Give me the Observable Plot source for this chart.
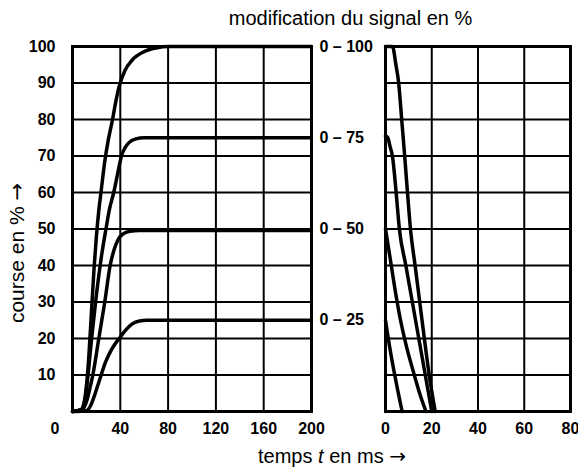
<!DOCTYPE html>
<html><head><meta charset="utf-8">
<script src="https://cdn.jsdelivr.net/npm/d3@7"></script>
<script src="https://cdn.jsdelivr.net/npm/@observablehq/plot@0.6"></script>
<style>
body{margin:0;background:#fff;}
#wrap{position:relative;width:578px;height:470px;}
#wrap svg{position:absolute;left:0;top:0;}
</style></head><body><div id="wrap"></div>
<script>
const FONT = '"Liberation Sans", Arial, Helvetica, sans-serif';

// tick labels and grid
const leftTicks = [40, 80, 120, 160, 200];
const rightTicks = [0, 20, 40, 60, 80];
const yTicks = [10, 20, 30, 40, 50, 60, 70, 80, 90, 100];
const leftGridX = [40, 80, 120, 160];
const rightGridX = [20, 40, 60];
const gridY = [10, 20, 30, 40, 50, 60, 70, 80, 90];
const rangeLabels = ["0 – 100", "0 – 75", "0 – 50", "0 – 25"];
const rangeLevels = [100, 75, 50, 25];

// left panel: rising stroke (t in ms, course in %)
const rise100 = [[0,0],[7,0.5],[10,3],[13,12],[16,28],[18,39],[20,48],[22,55],[24,60.5],[27,68.5],[30,74.5],[33.5,80],[36,84.5],[39,89],[44,93.5],[50,96.3],[60,98.6],[70,99.6],[80,100],[200,100]];
const rise75 = [[0,0],[8,0.5],[11,4],[13,10],[16,20],[20,32],[24,42],[28,50],[31,55.5],[34.5,60],[38,65.5],[41,70],[44,72.3],[47,73.6],[53,74.7],[60,75],[200,75]];
const rise50 = [[0,0],[8,0.5],[12,3],[15,7],[17,10],[22,20],[27,30],[31.5,40],[35,44.5],[38,47],[42,48.6],[48,49.4],[56,49.6],[200,49.6]];
const rise25 = [[0,0],[12,0.3],[15,1.5],[18,4],[21,7],[24,10],[27,13],[30,15.3],[35,18.2],[40,20.4],[45,22.5],[50,24],[56,24.8],[62,25],[200,25]];

// right panel: falling stroke
const fall100 = [[0,100],[3,100],[4.5,95],[5.7,90],[7,80],[8.3,70],[9.5,60],[10.8,50],[12.8,40],[14.8,30],[16.8,20],[18.9,10],[21.5,0]];
const fall75 = [[0,75.5],[1,75],[2,72.5],[3,70],[4.6,60],[6,50],[8.8,40],[11.6,30],[14.4,20],[17.2,10],[20,0]];
const fall50 = [[0,50],[1,46],[2.5,40],[4.5,32],[6.5,25],[9,18],[12,11],[15,4.5],[17.5,0]];
const fall25 = [[0,25],[1.2,20],[7.2,0]];

const lineOpts = {x: d => d[0], y: d => d[1], stroke: "black", strokeWidth: 3.5, curve: "monotone-x", strokeLinejoin: "round", strokeLinecap: "round"};
const baseStyle = {background: "transparent", fontFamily: FONT, fontSize: "16px", fontWeight: "bold", color: "black", overflow: "visible"};

const left = Plot.plot({
  width: 578, height: 470,
  marginLeft: 72, marginRight: 267, marginTop: 46, marginBottom: 59,
  style: baseStyle,
  x: {domain: [0, 200], axis: null},
  y: {domain: [0, 100], axis: null},
  marks: [
    Plot.ruleX(leftGridX, {stroke: "black", strokeWidth: 2}),
    Plot.ruleY(gridY, {stroke: "black", strokeWidth: 2}),
    Plot.frame({stroke: "black", strokeWidth: 3}),
    Plot.line(rise25, lineOpts),
    Plot.line(rise50, lineOpts),
    Plot.line(rise75, lineOpts),
    Plot.line(rise100, lineOpts),
    Plot.axisX({ticks: leftTicks, tickSize: 0, tickPadding: 11, label: null}),
    Plot.axisY({ticks: yTicks, tickSize: 0, tickPadding: 17, label: null}),
    Plot.text(["0"], {frameAnchor: "bottom-left", dx: -22, dy: 17, lineAnchor: "middle", fontSize: 16, fontWeight: "bold"}),
    Plot.text(["course en % →"], {frameAnchor: "left", dx: -55, dy: 24, rotate: -90, lineAnchor: "middle", textAnchor: "middle", fontSize: 21, fontWeight: "normal", letterSpacing: "0.3px"}),
    Plot.text(["temps t en ms →"], {frameAnchor: "bottom-left", dx: 259.5, dy: 45, lineAnchor: "middle", textAnchor: "middle", fontSize: 20, fontWeight: "normal"})
  ]
});

const right = Plot.plot({
  width: 578, height: 470,
  marginLeft: 385, marginRight: 8, marginTop: 46, marginBottom: 59,
  style: baseStyle,
  x: {domain: [0, 80], axis: null},
  y: {domain: [0, 100], axis: null},
  marks: [
    Plot.ruleX(rightGridX, {stroke: "black", strokeWidth: 2}),
    Plot.ruleY(gridY, {stroke: "black", strokeWidth: 2}),
    Plot.frame({stroke: "black", strokeWidth: 3}),
    Plot.line(fall25, lineOpts),
    Plot.line(fall50, lineOpts),
    Plot.line(fall75, lineOpts),
    Plot.line(fall100, lineOpts),
    Plot.axisX({ticks: rightTicks, tickSize: 0, tickPadding: 11, label: null}),
    Plot.text(rangeLabels, {x: 0, y: (d, i) => rangeLevels[i], dx: -66, textAnchor: "start", lineAnchor: "middle", fontSize: 16, fontWeight: "bold"}),
    Plot.text(["modification du signal en %"], {frameAnchor: "top-left", dx: -35, dy: -28, textAnchor: "middle", lineAnchor: "middle", fontSize: 20, fontWeight: "normal", letterSpacing: "0.9px"})
  ]
});

document.getElementById("wrap").append(left, right);

// italic t and a full-size arrow glyph
function restyle(svg, txt, parts) {
  d3.select(svg).selectAll("text").filter(function () { return this.textContent === txt; }).each(function () {
    const s = d3.select(this);
    s.text(null);
    for (const [str, attrs] of parts) {
      const t = s.append("tspan").text(str);
      for (const k in attrs) t.attr(k, attrs[k]);
    }
  });
}
restyle(left, "temps t en ms →", [["temps ", {}], ["t", {"font-style": "italic"}], [" en ms ", {}], ["→", {"font-family": "DejaVu Sans"}]]);
restyle(left, "course en % →", [["course en % ", {}], ["→", {"font-family": "DejaVu Sans"}]]);
</script>
</body></html>
